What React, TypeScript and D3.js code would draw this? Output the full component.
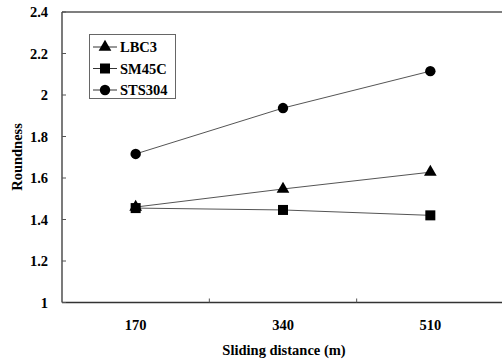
import React from "react";
import * as d3 from "d3";

const categories = ["170", "340", "510"];
const yTicks = [1, 1.2, 1.4, 1.6, 1.8, 2, 2.2, 2.4];
const seriesNames = ["LBC3", "SM45C", "STS304"];
const lbc3 = [1.46, 1.547, 1.628];
const sm45c = [1.455, 1.446, 1.42];
const sts304 = [1.716, 1.937, 2.115];

const W = 502, H = 360;
const margin = { left: 62, top: 12, right: 504, bottom: 302.5 };
const font = "'Liberation Serif', 'Times New Roman', serif";
const fs = 14.5;

export default function App() {
  const x = d3.scaleBand().domain(categories).range([margin.left, margin.right]);
  const y = d3.scaleLinear().domain([1, 2.4]).range([margin.bottom, margin.top]);
  const line = d3.line<number>().x((_, i) => x(categories[i])! + x.bandwidth() / 2).y((d) => y(d));
  const series = [
    { name: seriesNames[0], data: lbc3, shape: "tri" },
    { name: seriesNames[1], data: sm45c, shape: "sq" },
    { name: seriesNames[2], data: sts304, shape: "circ" },
  ];
  const marker = (shape: string, cx: number, cy: number, key: string) => {
    if (shape === "tri") {
      const s = d3.symbol(d3.symbolTriangle, 70)();
      return <path key={key} d={s!} transform={`translate(${cx},${cy})`} fill="#000" />;
    }
    if (shape === "sq") return <rect key={key} x={cx - 5} y={cy - 5} width={10} height={10} fill="#000" />;
    return <circle key={key} cx={cx} cy={cy} r={5.2} fill="#000" />;
  };
  const boundaries = [margin.left + x.bandwidth(), margin.left + 2 * x.bandwidth()];
  return (
    <svg width={W} height={H} style={{ position: "absolute", left: 0, top: 0, background: "#fff" }}>
      <rect width={W} height={H} fill="#fff" />
      <line x1={margin.left} x2={margin.right} y1={margin.top} y2={margin.top} stroke="#555" strokeWidth={1.3} />
      <line x1={margin.left} x2={margin.left} y1={margin.top} y2={margin.bottom} stroke="#333" strokeWidth={1.3} />
      <line x1={margin.left} x2={margin.right} y1={margin.bottom} y2={margin.bottom} stroke="#333" strokeWidth={1.3} />
      {yTicks.map((t) => (
        <g key={t}>
          <line x1={margin.left} x2={margin.left + 4} y1={y(t)} y2={y(t)} stroke="#555" />
          <text x={48} y={y(t) + 5} textAnchor="end" fontFamily={font} fontWeight="bold" fontSize={fs}>
            {String(t)}
          </text>
        </g>
      ))}
      {boundaries.map((b, i) => (
        <line key={i} x1={b} x2={b} y1={margin.bottom} y2={margin.bottom - 4} stroke="#555" />
      ))}
      {categories.map((c) => (
        <text key={c} x={x(c)! + x.bandwidth() / 2} y={330} textAnchor="middle" fontFamily={font} fontWeight="bold" fontSize={fs}>
          {c}
        </text>
      ))}
      <text x={284} y={355} textAnchor="middle" fontFamily={font} fontWeight="bold" fontSize={fs}>
        Sliding distance (m)
      </text>
      <text transform="translate(22,157) rotate(-90)" textAnchor="middle" fontFamily={font} fontWeight="bold" fontSize={fs}>
        Roundness
      </text>
      {series.map((s) => (
        <g key={s.name}>
          <path d={line(s.data)!} fill="none" stroke="#555" strokeWidth={1} />
          {s.data.map((v, i) => marker(s.shape, x(categories[i])! + x.bandwidth() / 2, y(v), s.name + i))}
        </g>
      ))}
      <rect x={89.5} y={34.5} width={86} height={64} fill="#fff" stroke="#666" strokeWidth={1} />
      {series.map((s, i) => {
        const ly = 47 + i * 21.5;
        return (
          <g key={s.name}>
            <line x1={93} x2={117} y1={ly} y2={ly} stroke="#333" />
            {marker(s.shape, 105, ly, "lg" + i)}
            <text x={120} y={ly + 5} fontFamily={font} fontWeight="bold" fontSize={fs}>
              {s.name}
            </text>
          </g>
        );
      })}
    </svg>
  );
}
